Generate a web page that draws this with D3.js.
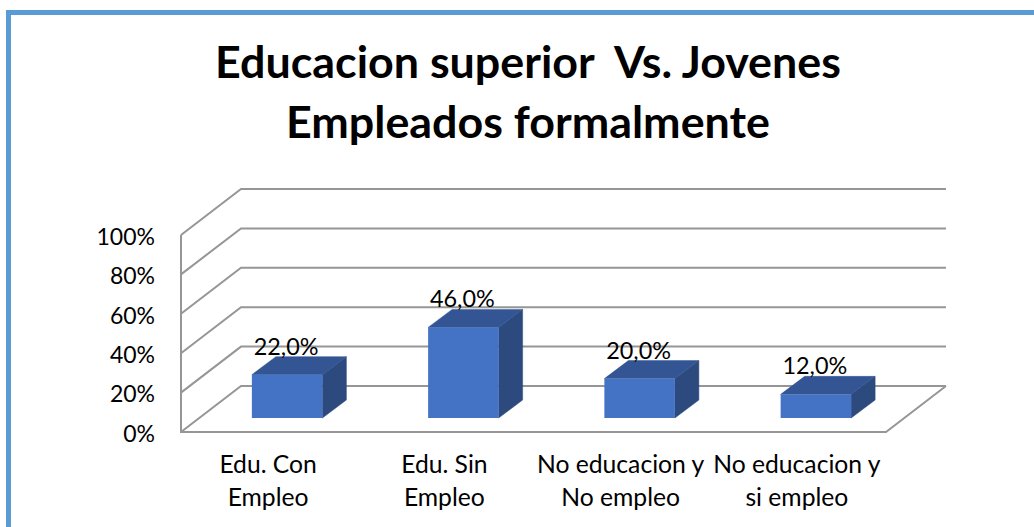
<!DOCTYPE html>
<html><head><meta charset="utf-8">
<script src="https://cdn.jsdelivr.net/npm/d3@7"></script>
<style>html,body{margin:0;padding:0;background:#fff;overflow:hidden}svg{display:block}text{font-family:Lato,"Open Sans",sans-serif;fill:#000}</style>
</head><body><svg id="c" width="1034" height="527"></svg>
<script>
const titleLines = ["Educacion superior  Vs. Jovenes", "Empleados formalmente"];
const categories = ["Edu. Con|Empleo", "Edu. Sin|Empleo", "No educacion y|No empleo", "No educacion y|si empleo"];
const values = [22, 46, 20, 12];
const valueLabels = ["22,0%", "46,0%", "20,0%", "12,0%"];
const yTicks = [0, 20, 40, 60, 80, 100];

const svg = d3.select("#c");
// frame
svg.append("rect").attr("x",0).attr("y",0).attr("width",1034).attr("height",527).attr("fill","#fff");
svg.append("path").attr("d","M8.5,527V12.5H1034").attr("fill","none").attr("stroke","#5b9bd5").attr("stroke-width",5);

// title
svg.append("g").selectAll("text").data(titleLines).join("text")
  .attr("x",528).attr("y",(d,i)=>78+i*60).attr("text-anchor","middle")
  .attr("font-size",44.8).attr("font-weight",700).style("white-space","pre").text(d=>d);

const x = d3.scaleBand().domain(categories).range([181,886]);
const y = d3.scaleLinear().domain([0,100]).range([432,235]);
const depth = {dx:60, dy:-46};
const grid = "#969696";

// walls and grid
const g = svg.append("g").attr("fill","none").attr("stroke",grid).attr("stroke-width",2);
g.selectAll("path.grid").data(yTicks).join("path").attr("class","grid")
  .attr("d",t=>{
    const yy=y(t);
    return `M${x.range()[0]},${yy}L${x.range()[0]+depth.dx},${yy+depth.dy}H${x.range()[1]+depth.dx}`;
  });
g.append("path").attr("d",`M${x.range()[0]},${y(100)}V${y(0)}H${x.range()[1]}L${x.range()[1]+depth.dx},${y(0)+depth.dy}`);

// y axis labels
const axis = d3.axisLeft(y).tickValues(yTicks).tickFormat(d=>d+"%").tickSize(0).tickPadding(26);
const ag = svg.append("g").attr("transform","translate(181,0)").call(axis);
ag.select(".domain").remove();
ag.selectAll("text").attr("font-size",23).attr("dy","0.4em").attr("font-family",'Lato');

// bars
const bw = 70.5, bdx = 24, bdy = -18, fx = 18, fy = -14;
const bars = svg.append("g").selectAll("g").data(categories).join("g");
const left = c => x(c)+x.bandwidth()/2+fx-bw/2;
const yb = v => y(v)+fy;
bars.append("path").attr("fill","#2c4a7e").attr("stroke","#2c4a7e").attr("stroke-width",.5).attr("d",(c,i)=>{
  const r=left(c)+bw;
  return `M${r},${yb(values[i])}l${bdx},${bdy}V${yb(0)+bdy}l${-bdx},${-bdy}Z`;
});
bars.append("path").attr("fill","#335593").attr("stroke","#335593").attr("stroke-width",.5).attr("d",(c,i)=>{
  const l=left(c), t=yb(values[i]);
  return `M${l},${t}l${bdx},${bdy}h${bw}l${-bdx},${-bdy}Z`;
});
bars.append("rect").attr("fill","#4472c4").attr("x",left).attr("width",bw)
  .attr("y",(c,i)=>yb(values[i])).attr("height",(c,i)=>yb(0)-yb(values[i]));
bars.append("text").attr("text-anchor","middle").attr("font-size",23.4)
  .attr("x",c=>left(c)+bw/2-1).attr("y",(c,i)=>yb(values[i])-20).text((c,i)=>valueLabels[i]);

// category labels
const cg = svg.append("g").selectAll("text").data(categories).join("text")
  .attr("text-anchor","middle").attr("font-size",24.7);
cg.selectAll("tspan").data(c=>c.split("|").map(t=>({t,c}))).join("tspan")
  .attr("x",d=>x(d.c)+x.bandwidth()/2-1).attr("y",(d,i)=>473+i*33).text(d=>d.t);
</script></body></html>
